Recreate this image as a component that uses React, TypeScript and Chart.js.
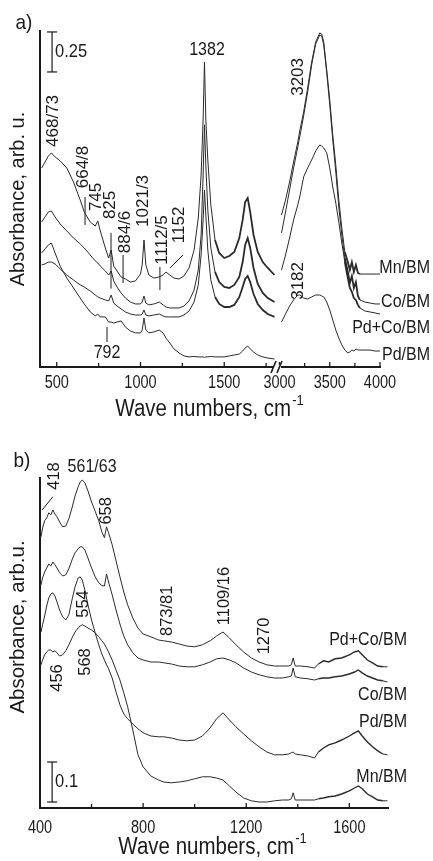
import React, { useEffect, useRef } from 'react';
import { Chart, registerables } from 'chart.js';

Chart.register(...registerables);

const FONT = "'Liberation Sans', Arial, Helvetica, sans-serif";
const INK = '#1a1a1a';
const LINE = '#2a2a2a';

// ---------------- Panel a (broken axis 400-1800 | 3000-4000) ----------------
const aLeftWn = [410, 430, 450, 468, 490, 520, 560, 600, 640, 664, 700, 730, 745, 760, 790, 810, 825, 840, 860, 884, 910, 940, 970, 1000, 1010, 1021, 1032, 1050, 1080, 1112, 1135, 1152, 1175, 1200, 1230, 1260, 1290, 1320, 1345, 1362, 1374, 1382, 1390, 1402, 1420, 1445, 1470, 1500, 1530, 1560, 1590, 1610, 1625, 1640, 1655, 1675, 1700, 1730, 1760, 1800];
const aMnLeft = [1.244, 1.281, 1.319, 1.338, 1.313, 1.288, 1.244, 1.156, 1.044, 0.969, 0.906, 0.881, 0.913, 0.850, 0.744, 0.681, 0.731, 0.631, 0.600, 0.563, 0.550, 0.531, 0.538, 0.581, 0.638, 0.794, 0.638, 0.575, 0.556, 0.563, 0.575, 0.594, 0.575, 0.556, 0.550, 0.569, 0.619, 0.731, 0.931, 1.200, 1.550, 1.906, 1.550, 1.294, 1.013, 0.794, 0.713, 0.681, 0.694, 0.719, 0.806, 0.919, 1.031, 1.056, 0.969, 0.825, 0.719, 0.656, 0.619, 0.575];
const aCoLeft = [0.906, 0.938, 0.969, 0.975, 0.938, 0.894, 0.850, 0.806, 0.769, 0.744, 0.700, 0.663, 0.650, 0.631, 0.600, 0.575, 0.600, 0.538, 0.500, 0.463, 0.431, 0.406, 0.394, 0.394, 0.406, 0.444, 0.400, 0.388, 0.394, 0.406, 0.388, 0.375, 0.369, 0.369, 0.369, 0.381, 0.413, 0.481, 0.606, 0.825, 1.200, 1.513, 1.263, 0.981, 0.744, 0.594, 0.531, 0.500, 0.494, 0.513, 0.563, 0.656, 0.763, 0.806, 0.744, 0.619, 0.519, 0.463, 0.431, 0.406];
const aPdCoLeft = [0.638, 0.644, 0.656, 0.656, 0.644, 0.613, 0.575, 0.544, 0.513, 0.500, 0.475, 0.450, 0.438, 0.431, 0.419, 0.413, 0.450, 0.400, 0.381, 0.363, 0.344, 0.331, 0.325, 0.325, 0.331, 0.356, 0.325, 0.319, 0.325, 0.331, 0.319, 0.313, 0.313, 0.313, 0.313, 0.325, 0.350, 0.406, 0.513, 0.700, 0.919, 1.106, 0.950, 0.731, 0.544, 0.438, 0.394, 0.375, 0.375, 0.388, 0.438, 0.500, 0.550, 0.569, 0.531, 0.456, 0.394, 0.356, 0.331, 0.313];
const aPdLeft = [0.713, 0.738, 0.763, 0.775, 0.713, 0.631, 0.556, 0.494, 0.431, 0.394, 0.344, 0.319, 0.331, 0.313, 0.313, 0.281, 0.281, 0.275, 0.281, 0.288, 0.250, 0.225, 0.213, 0.213, 0.231, 0.306, 0.231, 0.213, 0.219, 0.231, 0.213, 0.181, 0.150, 0.113, 0.088, 0.069, 0.063, 0.066, 0.063, 0.063, 0.063, 0.060, 0.063, 0.063, 0.066, 0.063, 0.063, 0.063, 0.069, 0.075, 0.081, 0.100, 0.119, 0.131, 0.113, 0.094, 0.075, 0.063, 0.056, 0.050];

const aRightWn = [3020, 3060, 3100, 3140, 3182, 3203, 3240, 3280, 3320, 3360, 3400, 3420, 3440, 3470, 3500, 3530, 3560, 3590, 3620, 3650, 3680, 3700, 3720, 3740, 3760, 3780, 3800, 3850, 3900, 3950, 4000];
const aMnRight = [0.950, 1.044, 1.156, 1.281, 1.406, 1.481, 1.594, 1.744, 1.906, 2.031, 2.088, 2.081, 2.031, 1.856, 1.669, 1.450, 1.263, 1.044, 0.869, 0.719, 0.656, 0.606, 0.656, 0.594, 0.638, 0.588, 0.581, 0.581, 0.581, 0.581, 0.581];
const aCoRight = [0.838, 0.969, 1.106, 1.244, 1.375, 1.444, 1.569, 1.719, 1.888, 2.019, 2.075, 2.069, 2.013, 1.838, 1.638, 1.419, 1.219, 1.000, 0.825, 0.681, 0.594, 0.525, 0.569, 0.494, 0.531, 0.444, 0.419, 0.406, 0.400, 0.394, 0.394];
const aPdCoRight = [0.606, 0.700, 0.806, 0.919, 1.013, 1.069, 1.188, 1.244, 1.294, 1.350, 1.388, 1.381, 1.369, 1.338, 1.244, 1.125, 1.025, 0.906, 0.775, 0.656, 0.556, 0.494, 0.469, 0.431, 0.419, 0.388, 0.369, 0.350, 0.344, 0.338, 0.331];
const aPdRight = [0.281, 0.331, 0.381, 0.419, 0.450, 0.450, 0.431, 0.425, 0.438, 0.450, 0.450, 0.444, 0.438, 0.406, 0.356, 0.294, 0.231, 0.181, 0.138, 0.106, 0.088, 0.094, 0.106, 0.100, 0.113, 0.106, 0.106, 0.106, 0.106, 0.100, 0.100];

const aTickWn = [500, 750, 1000, 1250, 1500, 1750, 3000, 3250, 3500, 3750, 4000];
const aTickLabels = ['500', '', '1000', '', '1500', '', '3000', '', '3500', '', '4000'];
const aSeriesNames = ['Mn/BM', 'Co/BM', 'Pd+Co/BM', 'Pd/BM'];

// ---------------- Panel b (400-1750) ----------------
const bWn = [404, 410, 418, 426, 434, 442, 450, 458, 466, 476, 488, 500, 512, 524, 536, 548, 556, 564, 574, 586, 600, 614, 628, 640, 650, 658, 666, 680, 695, 710, 725, 740, 760, 780, 800, 830, 860, 880, 910, 940, 970, 1000, 1030, 1060, 1085, 1110, 1135, 1160, 1190, 1220, 1250, 1280, 1310, 1340, 1365, 1375, 1382, 1390, 1410, 1440, 1465, 1480, 1500, 1520, 1545, 1570, 1600, 1620, 1635, 1650, 1670, 1690, 1710, 1730, 1748];
const bPdCo = [0.678, 0.700, 0.718, 0.725, 0.738, 0.733, 0.745, 0.735, 0.728, 0.715, 0.703, 0.705, 0.723, 0.750, 0.780, 0.803, 0.815, 0.820, 0.813, 0.793, 0.765, 0.742, 0.718, 0.690, 0.676, 0.703, 0.688, 0.658, 0.618, 0.578, 0.540, 0.508, 0.475, 0.450, 0.435, 0.428, 0.420, 0.418, 0.415, 0.410, 0.405, 0.403, 0.408, 0.418, 0.430, 0.440, 0.425, 0.408, 0.390, 0.375, 0.365, 0.358, 0.355, 0.355, 0.355, 0.358, 0.375, 0.355, 0.355, 0.353, 0.350, 0.360, 0.368, 0.365, 0.373, 0.375, 0.383, 0.390, 0.393, 0.383, 0.370, 0.363, 0.355, 0.353, 0.353];
const bCo = [0.558, 0.575, 0.590, 0.600, 0.610, 0.605, 0.615, 0.608, 0.600, 0.588, 0.580, 0.583, 0.598, 0.620, 0.638, 0.648, 0.653, 0.653, 0.645, 0.625, 0.600, 0.578, 0.563, 0.556, 0.555, 0.585, 0.565, 0.533, 0.495, 0.460, 0.430, 0.408, 0.388, 0.375, 0.370, 0.365, 0.365, 0.363, 0.360, 0.355, 0.353, 0.353, 0.358, 0.365, 0.373, 0.375, 0.370, 0.363, 0.350, 0.340, 0.333, 0.328, 0.325, 0.325, 0.328, 0.330, 0.350, 0.328, 0.325, 0.323, 0.320, 0.323, 0.325, 0.325, 0.328, 0.330, 0.335, 0.340, 0.345, 0.338, 0.330, 0.325, 0.320, 0.318, 0.315];
const bPd = [0.440, 0.458, 0.480, 0.505, 0.525, 0.535, 0.538, 0.530, 0.515, 0.495, 0.478, 0.470, 0.483, 0.520, 0.553, 0.575, 0.578, 0.570, 0.545, 0.508, 0.470, 0.438, 0.408, 0.385, 0.370, 0.358, 0.348, 0.325, 0.290, 0.258, 0.235, 0.223, 0.210, 0.198, 0.188, 0.180, 0.178, 0.178, 0.175, 0.170, 0.168, 0.170, 0.180, 0.200, 0.223, 0.238, 0.220, 0.203, 0.185, 0.168, 0.153, 0.140, 0.133, 0.133, 0.135, 0.138, 0.140, 0.135, 0.133, 0.130, 0.125, 0.140, 0.150, 0.158, 0.163, 0.170, 0.180, 0.188, 0.193, 0.180, 0.165, 0.153, 0.143, 0.135, 0.133];
const bMn = [0.358, 0.370, 0.383, 0.390, 0.395, 0.395, 0.390, 0.393, 0.388, 0.380, 0.383, 0.393, 0.408, 0.425, 0.440, 0.450, 0.455, 0.458, 0.455, 0.450, 0.445, 0.438, 0.428, 0.418, 0.410, 0.400, 0.390, 0.370, 0.345, 0.320, 0.288, 0.253, 0.195, 0.133, 0.103, 0.080, 0.070, 0.065, 0.063, 0.065, 0.068, 0.073, 0.078, 0.078, 0.075, 0.070, 0.055, 0.040, 0.025, 0.018, 0.015, 0.015, 0.018, 0.020, 0.020, 0.023, 0.038, 0.020, 0.020, 0.020, 0.020, 0.023, 0.025, 0.028, 0.030, 0.035, 0.043, 0.050, 0.055, 0.048, 0.035, 0.028, 0.020, 0.018, 0.018];
const bTickWn = [400, 600, 800, 1000, 1200, 1400, 1600];
const bTickLabels = ['400', '', '800', '', '1200', '', '1600'];
const bSeriesNames = ['Pd+Co/BM', 'Co/BM', 'Pd/BM', 'Mn/BM'];

// axis-break mapping for panel a
const BREAK_LO = 1800;
const BREAK_HI = 3000;
const BREAK_GAP = 30;
const RIGHT_SCALE = 0.6;
const toAxisA = (wn: number) => (wn <= BREAK_LO ? wn : BREAK_LO + BREAK_GAP + (wn - BREAK_HI) * RIGHT_SCALE);

type Note = { t: string; wn: number; a: number; rot?: boolean };

const aNotes: Note[] = [
  { t: '468/73', wn: 478, a: 1.538, rot: true },
  { t: '664/8', wn: 657, a: 1.25, rot: true },
  { t: '745', wn: 734, a: 1.063, rot: true },
  { t: '825', wn: 818, a: 1.013, rot: true },
  { t: '884/6', wn: 907, a: 0.844, rot: true },
  { t: '1021/3', wn: 1015, a: 1.038, rot: true },
  { t: '1112/5', wn: 1128, a: 0.794, rot: true },
  { t: '1152', wn: 1230, a: 0.888, rot: true },
  { t: '1382', wn: 1397, a: 1.981 },
  { t: '3203', wn: 3183, a: 1.813, rot: true },
  { t: '3182', wn: 3190, a: 0.538, rot: true },
  { t: '792', wn: 800, a: 0.0875 },
];
const aLeaders: number[][] = [
  [669, 1.063, 669, 0.888],
  [824, 0.838, 824, 0.49],
  [896, 0.7, 896, 0.525],
  [1116, 0.625, 1116, 0.481],
  [1254, 0.70, 1176, 0.619],
  [800, 0.25, 800, 0.156],
];
const aRightLabelAbs = [0.619, 0.406, 0.244, 0.075];

const bNotes: Note[] = [
  { t: '418', wn: 458, a: 0.83, rot: true },
  { t: '561/63', wn: 602, a: 0.853 },
  { t: '658', wn: 656, a: 0.743, rot: true },
  { t: '554', wn: 567, a: 0.51, rot: true },
  { t: '568', wn: 575, a: 0.365, rot: true },
  { t: '456', wn: 466, a: 0.325, rot: true },
  { t: '873/81', wn: 893, a: 0.493, rot: true },
  { t: '1109/16', wn: 1114, a: 0.53, rot: true },
  { t: '1270', wn: 1269, a: 0.43, rot: true },
];
const bLeaders: number[][] = [[408, 0.745, 450, 0.778]];
const bRightLabelAbs = [0.42, 0.283, 0.215, 0.078];

function drawText(ctx: CanvasRenderingContext2D, s: string, x: number, y: number, size: number, rot = false, align: CanvasTextAlign = 'center', sy = 1) {
  ctx.save();
  ctx.translate(x, y);
  if (rot) ctx.rotate(-Math.PI / 2);
  else if (sy !== 1) ctx.scale(1, sy);
  ctx.font = `${size}px ${FONT}`;
  ctx.textAlign = align;
  ctx.textBaseline = 'middle';
  ctx.fillStyle = INK;
  ctx.fillText(s, 0, 0);
  ctx.restore();
}

function drawXTitle(ctx: CanvasRenderingContext2D, cx: number, cy: number) {
  const main = 'Wave numbers, cm';
  const sup = '-1';
  ctx.save();
  ctx.translate(0, cy);
  ctx.scale(1, 1.13);
  ctx.font = `20.5px ${FONT}`;
  const w1 = ctx.measureText(main).width;
  ctx.font = `13px ${FONT}`;
  const w2 = ctx.measureText(sup).width;
  const x0 = cx - (w1 + w2) / 2;
  ctx.textAlign = 'left';
  ctx.textBaseline = 'middle';
  ctx.fillStyle = INK;
  ctx.font = `20.5px ${FONT}`;
  ctx.fillText(main, x0, 0);
  ctx.font = `13px ${FONT}`;
  ctx.fillText(sup, x0 + w1 + 1, -8);
  ctx.restore();
}

function line(ctx: CanvasRenderingContext2D, x1: number, y1: number, x2: number, y2: number, w = 1) {
  ctx.beginPath();
  ctx.moveTo(x1, y1);
  ctx.lineTo(x2, y2);
  ctx.lineWidth = w;
  ctx.strokeStyle = INK;
  ctx.stroke();
}

function scaleBar(ctx: CanvasRenderingContext2D, x: number, y1: number, y2: number, label: string) {
  line(ctx, x, y1, x, y2, 1.2);
  line(ctx, x - 5, y1, x + 5, y1, 1.2);
  line(ctx, x - 5, y2, x + 5, y2, 1.2);
  drawText(ctx, label, x + 3, (y1 + y2) / 2, 16.5, false, 'left', 1.12);
}

// tick marks (inward) and tick labels from the x scale's own ticks
function drawXTicks(ctx: CanvasRenderingContext2D, chart: any, labels: string[], labelOffset: number) {
  const sx = chart.scales.x;
  const bottom = chart.chartArea.bottom;
  sx.ticks.forEach((t: any, i: number) => {
    const px = sx.getPixelForValue(t.value);
    const major = labels[i] !== '';
    line(ctx, px, bottom, px, bottom - (major ? 5 : 4), 1.3);
    if (major) drawText(ctx, labels[i], px, bottom + labelOffset, 14.5, false, 'center', 1.22);
  });
}

function baseOptions(opts: {
  xMin: number; xMax: number; yMax: number; ticks: number[];
  padTop: number; padRight: number; xHeight: number;
}) {
  return {
    responsive: false,
    animation: false as const,
    devicePixelRatio: 1,
    layout: { padding: { left: 40, right: opts.padRight, top: opts.padTop, bottom: 0 } },
    plugins: { legend: { display: false }, tooltip: { enabled: false } },
    elements: { point: { radius: 0 }, line: { borderWidth: 1, borderColor: LINE, tension: 0 } },
    scales: {
      x: {
        type: 'linear' as const,
        min: opts.xMin,
        max: opts.xMax,
        afterFit: (axis: any) => { axis.height = opts.xHeight; },
        afterBuildTicks: (axis: any) => { axis.ticks = opts.ticks.map((v) => ({ value: v })); },
        ticks: { display: false },
        grid: { display: false },
        border: { display: true, color: INK, width: 2 },
      },
      y: {
        type: 'linear' as const,
        min: 0,
        max: opts.yMax,
        afterFit: (axis: any) => { axis.width = 0; },
        ticks: { display: false },
        grid: { display: false },
        border: { display: true, color: INK, width: 2 },
      },
    },
  };
}

export default function App() {
  const refA = useRef<HTMLCanvasElement>(null);
  const refB = useRef<HTMLCanvasElement>(null);

  useEffect(() => {
    if (!refA.current || !refB.current) return;

    const aLeft = [aMnLeft, aCoLeft, aPdCoLeft, aPdLeft];
    const aRight = [aMnRight, aCoRight, aPdCoRight, aPdRight];
    const noisyA = (x: number) => (x > 1440 && x <= BREAK_LO) || (x > toAxisA(3640) && x < toAxisA(3800));
    const aDatasets = aSeriesNames.map((name, k) => ({
      label: name,
      data: [
        ...aLeftWn.map((w, i) => ({ x: toAxisA(w), y: aLeft[k][i] })),
        { x: BREAK_LO + BREAK_GAP / 2, y: null as any },
        ...aRightWn.map((w, i) => ({ x: toAxisA(w), y: aRight[k][i] })),
      ],
      borderColor: LINE,
      borderWidth: 1,
      pointRadius: 0,
      spanGaps: false,
      segment: { borderWidth: (c: any) => (k < 3 && noisyA(c.p0.parsed.x) ? 1.8 : 1) },
    }));

    const overlayA = {
      id: 'overlayA',
      afterDraw(chart: any) {
        const ctx: CanvasRenderingContext2D = chart.ctx;
        const X = (wn: number) => chart.scales.x.getPixelForValue(toAxisA(wn));
        const Y = (a: number) => chart.scales.y.getPixelForValue(a);
        const ca = chart.chartArea;
        ctx.save();
        drawXTicks(ctx, chart, aTickLabels, 16.5);
        aNotes.forEach((n) => drawText(ctx, n.t, X(n.wn), Y(n.a), n.rot ? 17 : 16, !!n.rot, 'center', n.rot ? 1 : 1.1));
        aLeaders.forEach(([w1, a1, w2, a2]) => line(ctx, X(w1), Y(a1), X(w2), Y(a2), 1));
        aSeriesNames.forEach((name, k) => drawText(ctx, name, ca.right + 50, Y(aRightLabelAbs[k]), 16, false, 'right', 1.15));
        scaleBar(ctx, X(472), Y(2.094), Y(1.844), '0.25');
        // axis break marks
        const bx = X(BREAK_LO) + (X(BREAK_HI) - X(BREAK_LO)) / 2;
        const by = ca.bottom;
        ctx.fillStyle = '#ffffff';
        ctx.fillRect(bx - 4, by - 2, 8, 4);
        line(ctx, bx - 6, by + 6, bx - 1, by - 6, 1.6);
        line(ctx, bx, by + 6, bx + 5, by - 6, 1.6);
        // titles
        drawText(ctx, 'Absorbance, arb. u.', 18, (ca.top + ca.bottom) / 2, 20, true);
        drawXTitle(ctx, 209, 410);
        drawText(ctx, 'a)', 24, 23, 19, false, 'center', 1.1);
        ctx.restore();
      },
    };

    const chartA = new Chart(refA.current, {
      type: 'line',
      data: { datasets: aDatasets as any },
      options: baseOptions({
        xMin: 400, xMax: toAxisA(4000), yMax: 2.1, ticks: aTickWn.map(toAxisA),
        padTop: 31, padRight: 53, xHeight: 63,
      }) as any,
      plugins: [overlayA],
    });

    const bSeries = [bPdCo, bCo, bPd, bMn];
    const bDatasets = bSeriesNames.map((name, k) => ({
      label: name,
      data: bWn.map((w, i) => ({ x: w, y: bSeries[k][i] })),
      borderColor: LINE,
      borderWidth: 1,
      pointRadius: 0,
      segment: { borderWidth: (c: any) => (c.p0.parsed.x > 1470 && c.p0.parsed.x < 1720 ? 1.4 : 1) },
    }));

    const overlayB = {
      id: 'overlayB',
      afterDraw(chart: any) {
        const ctx: CanvasRenderingContext2D = chart.ctx;
        const X = (wn: number) => chart.scales.x.getPixelForValue(wn);
        const Y = (a: number) => chart.scales.y.getPixelForValue(a);
        const ca = chart.chartArea;
        ctx.save();
        drawXTicks(ctx, chart, bTickLabels, 20.5);
        bNotes.forEach((n) => drawText(ctx, n.t, X(n.wn), Y(n.a), n.rot ? 16.5 : 16, !!n.rot, 'center', n.rot ? 1 : 1.1));
        bLeaders.forEach(([w1, a1, w2, a2]) => line(ctx, X(w1), Y(a1), X(w2), Y(a2), 1));
        bSeriesNames.forEach((name, k) => drawText(ctx, name, ca.right + 19, Y(bRightLabelAbs[k]), 16, false, 'right', 1.15));
        scaleBar(ctx, X(447), Y(0.115), Y(0.015), '0.1');
        drawText(ctx, 'Absorbance, arb.u.', 18, 197, 20.5, true);
        drawXTitle(ctx, 212, 418);
        drawText(ctx, 'b)', 22, 31, 19, false, 'center', 1.1);
        ctx.restore();
      },
    };

    const chartB = new Chart(refB.current, {
      type: 'line',
      data: { datasets: bDatasets as any },
      options: baseOptions({
        xMin: 400, xMax: 1750, yMax: 0.825, ticks: bTickWn,
        padTop: 48, padRight: 45, xHeight: 53,
      }) as any,
      plugins: [overlayB],
    });

    return () => {
      chartA.destroy();
      chartB.destroy();
    };
  }, []);

  return (
    <div style={{ position: 'fixed', left: 0, top: 0, width: 433, height: 861, background: '#fff' }}>
      <canvas ref={refA} width={433} height={430} style={{ display: 'block', width: 433, height: 430 }} />
      <canvas ref={refB} width={433} height={431} style={{ display: 'block', width: 433, height: 431 }} />
    </div>
  );
}
